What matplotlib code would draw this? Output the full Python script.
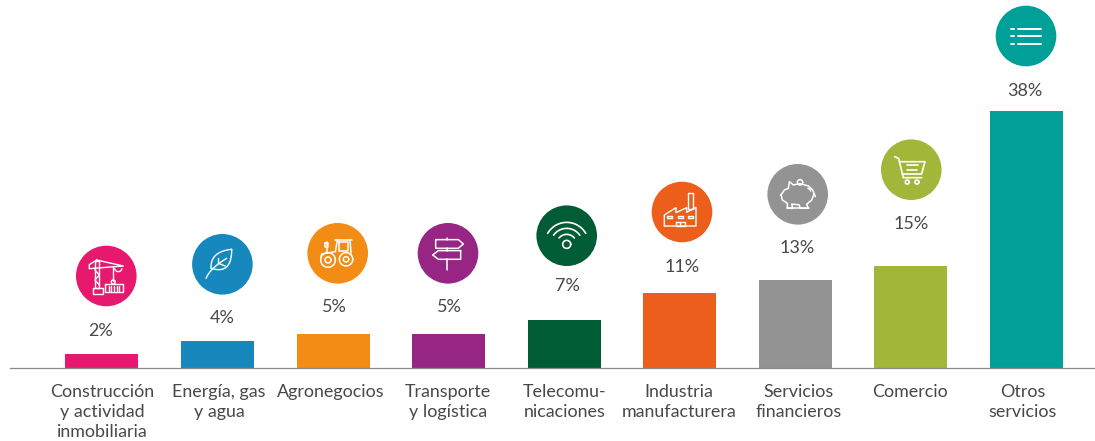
import numpy as np
import matplotlib
matplotlib.use("Agg")
import matplotlib.pyplot as plt
from matplotlib.patches import Circle

# ---- data ----
categories = ["Construcción\ny actividad\ninmobiliaria", "Energía, gas\ny agua", "Agronegocios",
              "Transporte\ny logística", "Telecomu-\nnicaciones", "Industria\nmanufacturera",
              "Servicios\nfinancieros", "Comercio", "Otros\nservicios"]
values = [2, 4, 5, 5, 7, 11, 13, 15, 38]
colors = ["#E6196F", "#1688BE", "#F28C14", "#962584", "#005C35", "#EC5E1C", "#939393", "#A2B73A", "#00A099"]

# ---- layout (pixels) ----
W, H = 1095, 441
BASE = 367.8
PX_PER_PCT = 6.76
TEXT = "#484848"
bar_x = [101.5, 217.5, 333.5, 448.5, 564.5, 679.5, 795.5, 910.5, 1026.5]
label_x = [102, 219, 331, 448, 565, 679, 799, 910, 1023]
pct_x = [101, 222, 334, 449, 567, 682, 797, 911, 1025]
pct_y = [331, 318, 307, 307, 286, 267, 248, 224, 91]
icon_x = [106.3, 222.4, 337.7, 448, 566.7, 682, 797.7, 911.3, 1026]
icon_y = [276, 264.3, 253.3, 253.3, 235.7, 212, 194.3, 169.7, 36]
icon_lw = [1.0, 1.0, 1.1, 1.1, 1.2, 1.0, 1.1, 1.2, 1.4]
RADIUS = 30.3

plt.rcParams["font.family"] = ["Lato", "DejaVu Sans"]
fig = plt.figure(figsize=(W/100, H/100), dpi=100)

# bars on a real axis: x in pixels, y in percent
ax = fig.add_axes([0, (H-BASE)/H, 1, BASE/H])
ax.set_xlim(0, W)
ax.set_ylim(0, BASE/PX_PER_PCT)
ax.bar(bar_x, values, width=73, color=colors)
for s in ["top", "left", "right"]:
    ax.spines[s].set_visible(False)
ax.spines["bottom"].set_bounds(10, W)
ax.spines["bottom"].set_color("#8A8A8A")
ax.spines["bottom"].set_linewidth(0.9)
ax.set_yticks([])
ax.set_xticks(label_x)
ax.set_xticklabels(categories, fontsize=12.9, color=TEXT, linespacing=1.32)
ax.tick_params(axis="x", length=0, pad=11.5)

# overlay in pixel coordinates for icons and value labels
ov = fig.add_axes([0, 0, 1, 1])
ov.set_xlim(0, W); ov.set_ylim(H, 0); ov.axis("off"); ov.patch.set_alpha(0)

for v, x, y in zip(values, pct_x, pct_y):
    ov.text(x, y, f"{v}%", ha="center", va="center", fontsize=13, color=TEXT)


def rect(x0, y0, x1, y1):
    return [(x0, y0), (x1, y0), (x1, y1), (x0, y1), (x0, y0)]


def bez(p0, p1, p2, n=20):
    t = np.linspace(0, 1, n)[:, None]
    return list(map(tuple, (1-t)**2*np.array(p0) + 2*t*(1-t)*np.array(p1) + t**2*np.array(p2)))


def arc(cx, cy, r, a0=0, a1=360, n=48):
    a = np.radians(np.linspace(a0, a1, n))
    return list(zip(cx + r*np.cos(a), cy - r*np.sin(a)))


# icon strokes, in 1/3 px around each circle centre
def crane():
    c = (169, 258)
    L = [rect(135, 212, 148, 295), rect(128, 295, 160, 312), rect(166, 282, 218, 307),
         [(140, 210), (220, 228), (118, 236), (118, 224), (140, 210)],
         [(190, 232), (190, 272)], arc(190, 276, 6), [(135, 240), (148, 255), (135, 270), (148, 285)],
         arc(205, 234, 11, 190, 350, 16)]
    L += [[(x, 287), (x, 302)] for x in (176, 184, 192, 200, 208)]
    return c, L


def leaf():
    c = (517, 223)
    L = [bez((545, 178), (480, 185), (483, 235)), bez((483, 235), (545, 255), (545, 178)),
         bez((468, 265), (480, 235), (530, 205)), [(505, 220), (505, 203)], [(505, 220), (525, 228)]]
    return c, L


def tractor():
    c = (863, 190)
    L = [arc(834, 210, 22), arc(834, 210, 9), arc(888, 208, 20), arc(888, 208, 8),
         [(855, 150), (905, 150)], [(862, 150), (856, 185), (815, 192), (812, 205)],
         [(900, 150), (903, 190)], rect(866, 156, 895, 184),
         [(830, 155), (830, 185)], rect(826, 160, 834, 172)]
    return c, L


def signs():
    c = (174, 250)
    L = [[(137, 209), (205, 209), (220, 222), (205, 235), (137, 235), (137, 209)],
         [(212, 242), (145, 242), (128, 255), (145, 268), (212, 268), (212, 242)],
         [(172, 203), (172, 209)], [(172, 235), (172, 242)], [(172, 268), (172, 300)]]
    return c, L


def wifi():
    c = (530, 197)
    L = [arc(530, 223, 12), arc(530, 223, 30, 40, 140, 20), arc(530, 223, 48, 35, 145, 24),
         arc(530, 223, 66, 30, 150, 30)]
    return c, L


def factory():
    c = (876, 126)
    L = [rect(895, 68, 909, 118),
         [(823, 168), (823, 135), (858, 113), (858, 128), (890, 113), (890, 127), (918, 112),
          (918, 168), (823, 168)],
         rect(832, 137, 847, 145), rect(863, 137, 878, 145), rect(895, 137, 910, 145),
         rect(857, 156, 885, 168), [(871, 156), (871, 168)]]
    return c, L


def pig():
    c = (143, 583)
    L = [[(93, 585), (103, 570), (115, 565), (118, 545), (130, 555), (150, 551), (175, 558), (188, 570),
          (192, 582), (185, 600), (170, 613), (175, 625), (150, 625), (148, 615), (125, 612), (128, 625),
          (112, 625), (112, 610), (97, 600), (93, 585)],
         arc(150, 547, 8), [(110, 625), (178, 625)], arc(172, 575, 10, 10, 80, 8), [(192, 580), (196, 590)]]
    return c, L


def cart():
    c = (484, 509)
    L = [[(434, 470), (446, 475), (460, 533), (515, 533)],
         [(448, 485), (525, 485), (515, 522), (457, 522)],
         [(470, 496), (505, 496)], [(470, 509), (502, 509)],
         arc(472, 546, 6), arc(501, 546, 6)]
    return c, L


def listing():
    c = (828, 108)
    L = []
    for y in (87, 109, 131):
        L += [[(805, y), (873, y)], [(783, y), (793, y)]]
    return c, L


icons = [crane, leaf, tractor, signs, wifi, factory, pig, cart, listing]

for x, y, col, icon, lw in zip(icon_x, icon_y, colors, icons, icon_lw):
    ov.add_patch(Circle((x, y), RADIUS, color=col, lw=0))
    c, strokes = icon()
    for s in strokes:
        a = np.array(s, dtype=float)
        ov.plot(x + (a[:, 0]-c[0])/3, y + (a[:, 1]-c[1])/3, color="white", lw=lw,
                solid_capstyle="round", solid_joinstyle="round")

fig.savefig("out.png", dpi=100)
